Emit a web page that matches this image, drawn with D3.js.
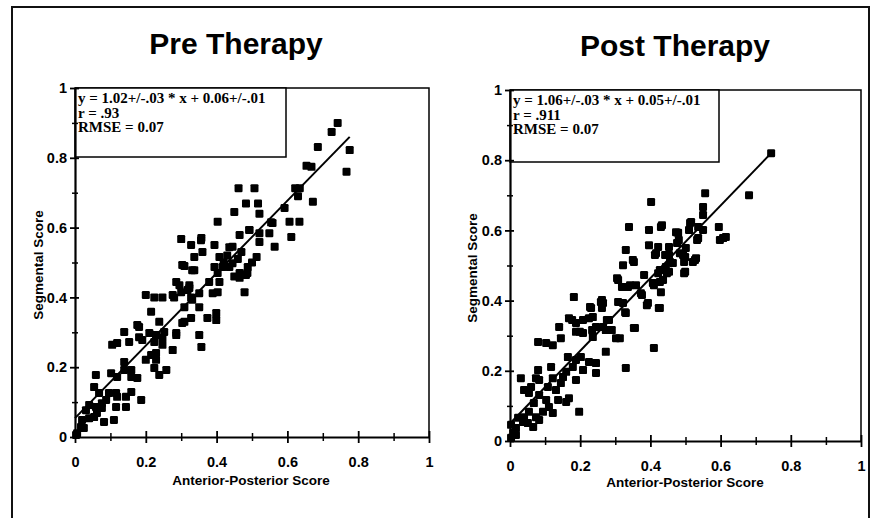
<!DOCTYPE html>
<html>
<head>
<meta charset="utf-8">
<script src="https://cdn.jsdelivr.net/npm/d3@7"></script>
<style>
  body { margin: 0; background: #fff; }
  svg { display: block; }
  .tick text { font-family: "Liberation Sans", Arial, sans-serif; font-weight: bold; font-size: 14.5px; fill: #000; }
</style>
</head>
<body>
<svg id="svg"></svg>
<script>
// values
const preTitle = 'Pre Therapy'
const postTitle = 'Post Therapy'
const xTitle = 'Anterior-Posterior Score'
const yTitle = 'Segmental Score'
const majorTicks = [0, 0.2, 0.4, 0.6, 0.8, 1]
const minorTicks = [0.1, 0.3, 0.5, 0.7, 0.9]
const preStats = ['y = 1.02+/-.03 * x + 0.06+/-.01', 'r = .93', 'RMSE = 0.07']
const postStats = ['y = 1.06+/-.03 * x + 0.05+/-.01', 'r = .911', 'RMSE = 0.07']
const preFitX = [0, 0.776]
const preFitY = [0.054, 0.86]
const postFitX = [0, 0.744]
const postFitY = [0.05, 0.82]

const prePoints = [
  [0.742,0.90],[0.725,0.874],[0.776,0.822],[0.767,0.76],[0.686,0.831],[0.654,0.777],[0.668,0.774],[0.672,0.674],
  [0.622,0.713],[0.635,0.713],[0.63,0.69],[0.592,0.656],[0.606,0.617],[0.634,0.617],[0.611,0.573],[0.554,0.615],
  [0.564,0.545],[0.549,0.584],[0.507,0.713],[0.462,0.713],[0.483,0.669],[0.517,0.669],[0.521,0.64],[0.45,0.645],
  [0.403,0.617],[0.492,0.593],[0.521,0.584],[0.465,0.579],[0.30,0.567],[0.328,0.55],[0.356,0.564],[0.394,0.55],
  [0.445,0.545],[0.309,0.49],[0.337,0.478],[0.20,0.407],[0.224,0.40],[0.247,0.40],[0.276,0.407],[0.295,0.435],
  [0.323,0.435],[0.30,0.415],[0.318,0.421],[0.328,0.40],[0.351,0.412],[0.379,0.444],[0.408,0.444],[0.403,0.415],
  [0.389,0.412],[0.436,0.487],[0.465,0.47],[0.483,0.464],[0.479,0.415],[0.445,0.498],[0.417,0.487],[0.403,0.47],
  [0.488,0.487],[0.215,0.359],[0.238,0.33],[0.181,0.315],[0.139,0.301],[0.309,0.372],[0.328,0.341],[0.351,0.372],
  [0.374,0.341],[0.399,0.355],[0.399,0.335],[0.351,0.292],[0.357,0.258],[0.303,0.327],[0.276,0.249],[0.286,0.298],
  [0.181,0.286],[0.19,0.278],[0.21,0.298],[0.229,0.292],[0.247,0.284],[0.252,0.301],[0.224,0.272],[0.247,0.264],
  [0.20,0.221],[0.215,0.235],[0.229,0.221],[0.224,0.198],[0.238,0.178],[0.258,0.192],[0.229,0.241],[0.105,0.264],
  [0.119,0.269],[0.153,0.272],[0.102,0.183],[0.119,0.172],[0.139,0.215],[0.139,0.192],[0.159,0.192],[0.176,0.169],
  [0.159,0.172],[0.059,0.178],[0.054,0.143],[0.068,0.126],[0.076,0.097],[0.096,0.126],[0.088,0.106],[0.116,0.126],
  [0.119,0.115],[0.116,0.086],[0.144,0.115],[0.144,0.086],[0.159,0.129],[0.187,0.106],[0.082,0.043],[0.110,0.049],
  [0.04,0.092],[0.031,0.077],[0.02,0.049],[0.017,0.029],[0.006,0.011],[0.003,0.006],[0.04,0.054],[0.059,0.086],
  [0.062,0.069],[0.076,0.083],[0.054,0.057],[0.025,0.026],[0.357,0.57],[0.36,0.53],[0.337,0.516],[0.303,0.493],
  [0.331,0.478],[0.394,0.487],[0.408,0.516],[0.436,0.544],[0.493,0.593],[0.521,0.559],[0.558,0.613],[0.513,0.516],
  [0.465,0.456],[0.487,0.47],[0.286,0.444],[0.323,0.427],[0.331,0.393],[0.28,0.40],[0.43,0.52],[0.46,0.51],
  [0.47,0.53],[0.50,0.50],[0.45,0.46],[0.42,0.50],[0.176,0.321],[0.286,0.292],[0.309,0.33]
]

const postPoints = [
  [0.744,0.82],[0.681,0.70],[0.556,0.706],[0.55,0.667],[0.55,0.644],[0.402,0.681],[0.339,0.61],[0.396,0.601],
  [0.43,0.61],[0.473,0.595],[0.516,0.624],[0.51,0.601],[0.55,0.601],[0.536,0.578],[0.595,0.61],[0.607,0.578],
  [0.615,0.581],[0.33,0.544],[0.396,0.558],[0.422,0.553],[0.453,0.553],[0.481,0.573],[0.501,0.55],[0.416,0.535],
  [0.453,0.53],[0.493,0.53],[0.53,0.521],[0.322,0.501],[0.353,0.51],[0.308,0.459],[0.336,0.439],[0.322,0.393],
  [0.33,0.365],[0.359,0.444],[0.382,0.473],[0.373,0.421],[0.393,0.393],[0.41,0.444],[0.422,0.478],[0.436,0.459],
  [0.43,0.424],[0.424,0.379],[0.444,0.496],[0.453,0.482],[0.496,0.478],[0.521,0.51],[0.496,0.51],[0.353,0.322],
  [0.33,0.208],[0.41,0.265],[0.259,0.396],[0.265,0.393],[0.231,0.379],[0.225,0.35],[0.182,0.41],[0.168,0.35],
  [0.188,0.336],[0.14,0.325],[0.145,0.293],[0.122,0.273],[0.08,0.282],[0.103,0.279],[0.282,0.345],[0.302,0.293],
  [0.273,0.316],[0.245,0.325],[0.208,0.345],[0.208,0.308],[0.188,0.311],[0.236,0.296],[0.273,0.254],[0.165,0.239],
  [0.188,0.231],[0.202,0.239],[0.225,0.225],[0.245,0.222],[0.245,0.194],[0.208,0.202],[0.179,0.211],[0.188,0.174],
  [0.16,0.197],[0.117,0.211],[0.08,0.202],[0.074,0.179],[0.122,0.179],[0.145,0.165],[0.151,0.182],[0.168,0.122],
  [0.16,0.111],[0.197,0.083],[0.031,0.179],[0.04,0.145],[0.06,0.154],[0.054,0.137],[0.083,0.131],[0.068,0.108],
  [0.103,0.117],[0.111,0.097],[0.122,0.08],[0.094,0.083],[0.074,0.068],[0.083,0.06],[0.066,0.04],[0.051,0.051],
  [0.037,0.054],[0.023,0.066],[0.017,0.037],[0.009,0.023],[0.003,0.046],[0.003,0.009],[0.017,0.017],[0.04,0.068],
  [0.054,0.083],[0.137,0.117],[0.131,0.145],[0.108,0.154],[0.083,0.174],[0.433,0.615],[0.479,0.593],[0.536,0.61],
  [0.533,0.573],[0.476,0.564],[0.35,0.516],[0.413,0.53],[0.442,0.53],[0.456,0.51],[0.484,0.535],[0.499,0.482],
  [0.527,0.516],[0.427,0.487],[0.447,0.478],[0.407,0.45],[0.427,0.453],[0.376,0.416],[0.305,0.464],[0.319,0.439],
  [0.342,0.444],[0.308,0.396],[0.328,0.367],[0.39,0.387],[0.427,0.379],[0.356,0.322],[0.228,0.382],[0.262,0.402],
  [0.262,0.379],[0.177,0.345],[0.236,0.353],[0.276,0.345],[0.29,0.316],[0.313,0.293],[0.199,0.311],[0.234,0.316],
  [0.265,0.325],[0.513,0.621],[0.598,0.573],[0.464,0.507],[0.499,0.524]
]

const width = 872
const height = 518

const svg = d3.select('#svg')
  .attr('width', width)
  .attr('height', height)
  .style('background-color', '#ffffff')

// outer frame of the figure
svg.append('rect')
  .attr('x', 12).attr('y', 7)
  .attr('width', 857).attr('height', 530)
  .attr('fill', 'none')
  .attr('stroke', '#111')
  .attr('stroke-width', 2)

function drawPanel(o) {
  const xScale = d3.scaleLinear().domain([0, 1]).range([o.left, o.right])
  const yScale = d3.scaleLinear().domain([0, 1]).range([o.bottom, o.top])

  svg.append('text')
    .attr('x', o.titleX).attr('y', o.titleY)
    .attr('text-anchor', 'middle')
    .style('font-family', '"Liberation Sans", Arial, sans-serif')
    .style('font-weight', 'bold')
    .style('font-size', '30px')
    .text(o.title)

  // top and right edges of the plot area
  svg.append('path')
    .attr('d', `M${o.left},${o.top}H${o.right}V${o.bottom}`)
    .attr('fill', 'none')
    .attr('stroke', '#000')
    .attr('stroke-width', 1.5)

  // stats box
  const box = svg.append('g')
  box.append('rect')
    .attr('x', o.left).attr('y', o.top)
    .attr('width', o.boxW).attr('height', o.boxH)
    .attr('fill', '#fff')
    .attr('stroke', '#000')
    .attr('stroke-width', 1.5)
  box.selectAll('text')
    .data(o.stats)
    .enter()
    .append('text')
    .attr('x', o.left + 3)
    .attr('y', (d, i) => o.top + 15 + i * 14.5)
    .style('font-family', '"Liberation Serif", "Times New Roman", serif')
    .style('font-weight', 'bold')
    .style('font-size', '15px')
    .text(d => d)

  // minor ticks
  const xMinor = svg.append('g')
    .attr('transform', 'translate(0,' + o.bottom + ')')
    .call(d3.axisBottom(xScale).tickValues(minorTicks).tickSize(4).tickFormat(''))
  xMinor.select('.domain').remove()
  xMinor.selectAll('.tick line').attr('y1', -4).attr('stroke-width', 1.5)

  const yMinor = svg.append('g')
    .attr('transform', 'translate(' + o.left + ',0)')
    .call(d3.axisLeft(yScale).tickValues(minorTicks).tickSize(3).tickFormat(''))
  yMinor.select('.domain').remove()
  yMinor.selectAll('.tick line').attr('x1', 3).attr('stroke-width', 1.5)

  // major axes
  const xAxis = svg.append('g')
    .attr('transform', 'translate(0,' + o.bottom + ')')
    .call(d3.axisBottom(xScale).tickValues(majorTicks).tickSizeInner(6).tickSizeOuter(0).tickPadding(14).tickFormat(d3.format('')))
  xAxis.select('.domain').attr('stroke-width', 2.2)
  xAxis.selectAll('.tick line').attr('y1', -6).attr('stroke-width', 1.8)

  const yAxis = svg.append('g')
    .attr('transform', 'translate(' + o.left + ',0)')
    .call(d3.axisLeft(yScale).tickValues(majorTicks).tickSizeInner(5).tickSizeOuter(0).tickPadding(3).tickFormat(d3.format('')))
  yAxis.select('.domain').attr('stroke-width', 2.2)
  yAxis.selectAll('.tick line').attr('x1', 4).attr('stroke-width', 1.8)

  // axis titles
  svg.append('text')
    .attr('x', o.xTitleX).attr('y', o.xTitleY)
    .attr('text-anchor', 'middle')
    .style('font-family', '"Liberation Sans", Arial, sans-serif')
    .style('font-weight', 'bold')
    .style('font-size', '13.5px')
    .text(xTitle)

  svg.append('text')
    .attr('transform', 'translate(' + o.yTitleX + ',' + o.yTitleY + ') rotate(-90)')
    .attr('text-anchor', 'middle')
    .style('font-family', '"Liberation Sans", Arial, sans-serif')
    .style('font-weight', 'bold')
    .style('font-size', '13.5px')
    .text(yTitle)

  // points
  svg.append('g')
    .selectAll('rect')
    .data(o.points)
    .enter()
    .append('rect')
    .attr('x', d => xScale(d[0]) - 4)
    .attr('y', d => yScale(d[1]) - 4)
    .attr('width', 8)
    .attr('height', 8)
    .attr('rx', 1.2)
    .attr('fill', '#000')

  // fit line
  const line = d3.line()
    .x(d => xScale(d[0]))
    .y(d => yScale(d[1]))
  svg.append('path')
    .datum(o.fitX.map((x, i) => [x, o.fitY[i]]))
    .attr('d', line)
    .attr('fill', 'none')
    .attr('stroke', '#000')
    .attr('stroke-width', 2)
}

drawPanel({
  title: preTitle, titleX: 236, titleY: 54,
  left: 75, right: 429, top: 88, bottom: 437,
  boxW: 211, boxH: 69,
  stats: preStats,
  xTitleX: 251, xTitleY: 485,
  yTitleX: 43, yTitleY: 265,
  points: prePoints, fitX: preFitX, fitY: preFitY
})

drawPanel({
  title: postTitle, titleX: 675, titleY: 56,
  left: 510, right: 861, top: 90, bottom: 441,
  boxW: 209, boxH: 72,
  stats: postStats,
  xTitleX: 685, xTitleY: 487,
  yTitleX: 477, yTitleY: 268,
  points: postPoints, fitX: postFitX, fitY: postFitY
})
</script>
</body>
</html>
